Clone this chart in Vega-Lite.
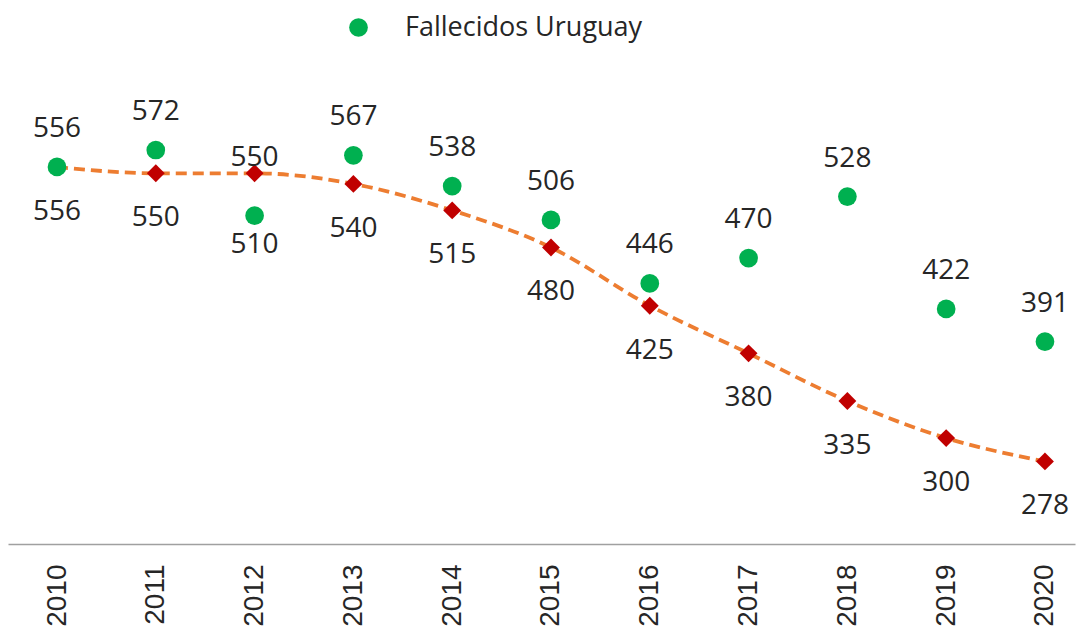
{
  "$schema": "https://vega.github.io/schema/vega-lite/v6.json",
  "width": 1067,
  "height": 466,
  "autosize": {"type": "none"},
  "padding": {"left": 8, "top": 78, "right": 13, "bottom": 88},
  "background": "white",
  "config": {"view": {"stroke": null}},
  "data": {
    "values": [
      {"year": "2010", "fallecidos": 556, "tendencia": 556},
      {"year": "2011", "fallecidos": 572, "tendencia": 550},
      {"year": "2012", "fallecidos": 510, "tendencia": 550},
      {"year": "2013", "fallecidos": 567, "tendencia": 540},
      {"year": "2014", "fallecidos": 538, "tendencia": 515},
      {"year": "2015", "fallecidos": 506, "tendencia": 480},
      {"year": "2016", "fallecidos": 446, "tendencia": 425},
      {"year": "2017", "fallecidos": 470, "tendencia": 380},
      {"year": "2018", "fallecidos": 528, "tendencia": 335},
      {"year": "2019", "fallecidos": 422, "tendencia": 300},
      {"year": "2020", "fallecidos": 391, "tendencia": 278}
    ]
  },
  "encoding": {
    "x": {
      "field": "year",
      "type": "ordinal",
      "scale": {"type": "point", "padding": 0.4, "align": 0.62},
      "axis": {
        "title": null,
        "labelAngle": -90,
        "labelFont": "Liberation Sans",
        "labelFontSize": 28,
        "labelColor": "#262626",
        "labelPadding": 20,
        "ticks": false,
        "domainColor": "#A0A0A0",
        "domainWidth": 1.5,
        "grid": false
      }
    }
  },
  "layer": [
    {
      "mark": {"type": "line", "color": "#ED7D31", "strokeWidth": 3.8, "strokeDash": [11, 6], "interpolate": "monotone"},
      "encoding": {
        "y": {"field": "tendencia", "type": "quantitative", "scale": {"domain": [200, 640], "nice": false, "zero": false}, "axis": null}
      }
    },
    {
      "mark": {"type": "point", "shape": "diamond", "filled": true, "color": "#C00000", "size": 320, "opacity": 1},
      "encoding": {
        "y": {"field": "tendencia", "type": "quantitative"}
      }
    },
    {
      "mark": {"type": "point", "shape": "circle", "filled": true, "size": 350, "opacity": 1},
      "encoding": {
        "y": {"field": "fallecidos", "type": "quantitative"},
        "color": {
          "datum": "Fallecidos Uruguay",
          "type": "nominal",
          "scale": {"range": ["#00B050"]},
          "legend": {
            "title": null,
            "orient": "none",
            "legendX": 337,
            "legendY": -64,
            "symbolType": "circle",
            "symbolSize": 350,
            "symbolStrokeWidth": 0,
            "labelFont": "Open Sans",
            "labelFontSize": 27,
            "labelColor": "#262626",
            "labelOffset": 33,
            "labelLimit": 0
          }
        }
      }
    },
    {
      "transform": [{"filter": "datum.year != '2012'"}],
      "mark": {"type": "text", "font": "Open Sans", "fontSize": 28, "color": "#262626", "baseline": "middle", "dy": -38},
      "encoding": {
        "y": {"field": "fallecidos", "type": "quantitative"},
        "text": {"field": "fallecidos", "type": "quantitative"}
      }
    },
    {
      "transform": [{"filter": "datum.year == '2012'"}],
      "mark": {"type": "text", "font": "Open Sans", "fontSize": 28, "color": "#262626", "baseline": "middle", "dy": 29},
      "encoding": {
        "y": {"field": "fallecidos", "type": "quantitative"},
        "text": {"field": "fallecidos", "type": "quantitative"}
      }
    },
    {
      "transform": [{"filter": "datum.year != '2012'"}],
      "mark": {"type": "text", "font": "Open Sans", "fontSize": 28, "color": "#262626", "baseline": "middle", "dy": 45},
      "encoding": {
        "y": {"field": "tendencia", "type": "quantitative"},
        "text": {"field": "tendencia", "type": "quantitative"}
      }
    },
    {
      "transform": [{"filter": "datum.year == '2012'"}],
      "mark": {"type": "text", "font": "Open Sans", "fontSize": 28, "color": "#262626", "baseline": "middle", "dy": -15},
      "encoding": {
        "y": {"field": "tendencia", "type": "quantitative"},
        "text": {"field": "tendencia", "type": "quantitative"}
      }
    }
  ]
}
